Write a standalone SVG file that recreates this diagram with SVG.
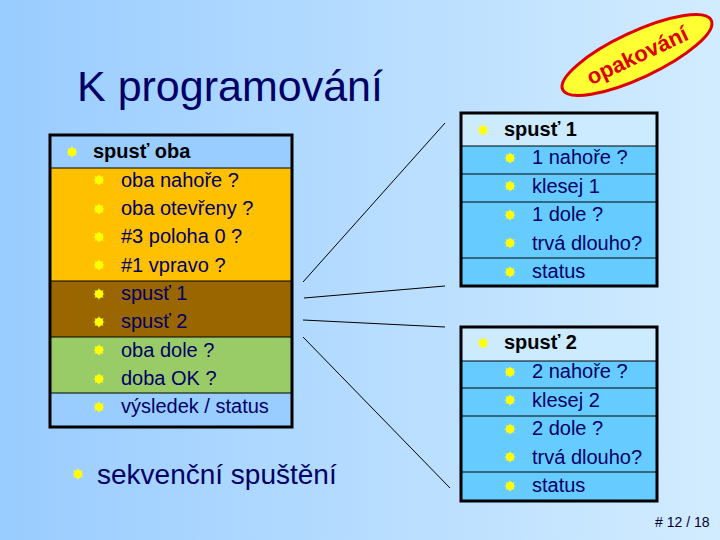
<svg xmlns="http://www.w3.org/2000/svg" width="720" height="540" viewBox="0 0 720 540">
<defs>
<linearGradient id="bg" x1="0" y1="0" x2="1" y2="0">
<stop offset="0" stop-color="#99CCFF"/>
<stop offset="1" stop-color="#D2ECFF"/>
</linearGradient>
<g id="bul">
<polygon points="0,-6 1.4,-2.4 4.6,-4 2.8,-0.8 6,0 2.8,1 4.6,4 1.4,2.4 0,6 -1.4,2.4 -4.6,4 -2.8,1 -6,0 -2.8,-0.8 -4.6,-4 -1.4,-2.4" fill="#FFFF33"/>
<circle r="4.2" fill="#FFFF00"/>
</g>
</defs>
<style>
text{font-family:"Liberation Sans",Arial,sans-serif}
.it{font-size:20px;fill:#000066}
.hd{font-size:20px;font-weight:bold;fill:#000000}
.box{fill:none;stroke:#000;stroke-width:3}
.sep{stroke:#000;stroke-width:1.2}
.ln{stroke:#000;stroke-width:1;fill:none}
</style>
<rect width="720" height="540" fill="url(#bg)"/>
<text id="title" x="77" y="101" font-size="43" fill="#000066">K programování</text>
<g id="badge" transform="translate(637,55) rotate(-25)">
<ellipse cx="0" cy="0" rx="82" ry="23" fill="#FFFF33" stroke="#DD0000" stroke-width="3"/>
<text x="0" y="8" font-size="22" font-weight="bold" fill="#DD0000" text-anchor="middle">opakování</text>
</g>
<g id="left-box">
<rect x="50" y="135" width="242" height="33" fill="#99CCFF"/>
<rect x="50" y="168" width="242" height="113" fill="#FFC000"/>
<rect x="50" y="281" width="242" height="56" fill="#996600"/>
<rect x="50" y="337" width="242" height="56" fill="#99CC66"/>
<rect x="50" y="393" width="242" height="34" fill="#99CCFF"/>
<line class="sep" x1="50" y1="168" x2="292" y2="168"/>
<line class="sep" x1="50" y1="281" x2="292" y2="281"/>
<line class="sep" x1="50" y1="337" x2="292" y2="337"/>
<line class="sep" x1="50" y1="393" x2="292" y2="393"/>
<rect class="box" x="50" y="135" width="242" height="292"/>
<use href="#bul" x="72" y="152"/>
<text class="hd" x="93" y="158">spusť oba</text>
<use href="#bul" x="99" y="180"/><text class="it" x="121" y="187">oba nahoře ?</text>
<use href="#bul" x="99" y="209"/><text class="it" x="121" y="215">oba otevřeny ?</text>
<use href="#bul" x="99" y="237"/><text class="it" x="121" y="243">#3 poloha 0 ?</text>
<use href="#bul" x="99" y="265"/><text class="it" x="121" y="272">#1 vpravo ?</text>
<use href="#bul" x="99" y="294"/><text class="it" x="121" y="300">spusť 1</text>
<use href="#bul" x="99" y="322"/><text class="it" x="121" y="328">spusť 2</text>
<use href="#bul" x="99" y="350"/><text class="it" x="121" y="357">oba dole ?</text>
<use href="#bul" x="99" y="379"/><text class="it" x="121" y="385">doba OK ?</text>
<use href="#bul" x="99" y="407"/><text class="it" x="121" y="413">výsledek / status</text>
</g>
<g id="seq">
<use href="#bul" x="78" y="474"/>
<text x="97" y="484" font-size="28" fill="#000066">sekvenční spuštění</text>
</g>
<g id="box-spust1">
<rect x="461" y="113" width="196" height="33" fill="#CCEBFF"/>
<rect x="461" y="146" width="196" height="140" fill="#66CCFF"/>
<line class="sep" x1="461" y1="146" x2="657" y2="146"/>
<line class="sep" x1="461" y1="174" x2="657" y2="174"/>
<line class="sep" x1="461" y1="202" x2="657" y2="202"/>
<line class="sep" x1="461" y1="258" x2="657" y2="258"/>
<rect class="box" x="461" y="113" width="196" height="173"/>
<use href="#bul" x="483" y="130"/>
<text class="hd" x="504" y="136">spusť 1</text>
<use href="#bul" x="510" y="158"/><text class="it" x="532" y="164">1 nahoře ?</text>
<use href="#bul" x="510" y="186"/><text class="it" x="532" y="193">klesej 1</text>
<use href="#bul" x="510" y="215"/><text class="it" x="532" y="221">1 dole ?</text>
<use href="#bul" x="510" y="243"/><text class="it" x="532" y="250">trvá dlouho?</text>
<use href="#bul" x="510" y="272"/><text class="it" x="532" y="278">status</text>
</g>
<g id="box-spust2">
<rect x="461" y="327" width="196" height="34" fill="#CCEBFF"/>
<rect x="461" y="361" width="196" height="140" fill="#66CCFF"/>
<line class="sep" x1="461" y1="361" x2="657" y2="361"/>
<line class="sep" x1="461" y1="388" x2="657" y2="388"/>
<line class="sep" x1="461" y1="416" x2="657" y2="416"/>
<line class="sep" x1="461" y1="472" x2="657" y2="472"/>
<rect class="box" x="461" y="327" width="196" height="174"/>
<use href="#bul" x="483" y="343"/>
<text class="hd" x="504" y="349">spusť 2</text>
<use href="#bul" x="510" y="372"/><text class="it" x="532" y="378">2 nahoře ?</text>
<use href="#bul" x="510" y="400"/><text class="it" x="532" y="407">klesej 2</text>
<use href="#bul" x="510" y="429"/><text class="it" x="532" y="435">2 dole ?</text>
<use href="#bul" x="510" y="457"/><text class="it" x="532" y="464">trvá dlouho?</text>
<use href="#bul" x="510" y="486"/><text class="it" x="532" y="492">status</text>
</g>
<g id="connectors">
<line class="ln" x1="303" y1="282" x2="445" y2="123"/>
<line class="ln" x1="304" y1="298" x2="445" y2="286"/>
<line class="ln" x1="303" y1="320" x2="445" y2="327"/>
<line class="ln" x1="303" y1="337" x2="450" y2="488"/>
</g>
<text id="pagenum" x="655" y="527" font-size="14" fill="#000033"># 12 / 18</text>
</svg>
